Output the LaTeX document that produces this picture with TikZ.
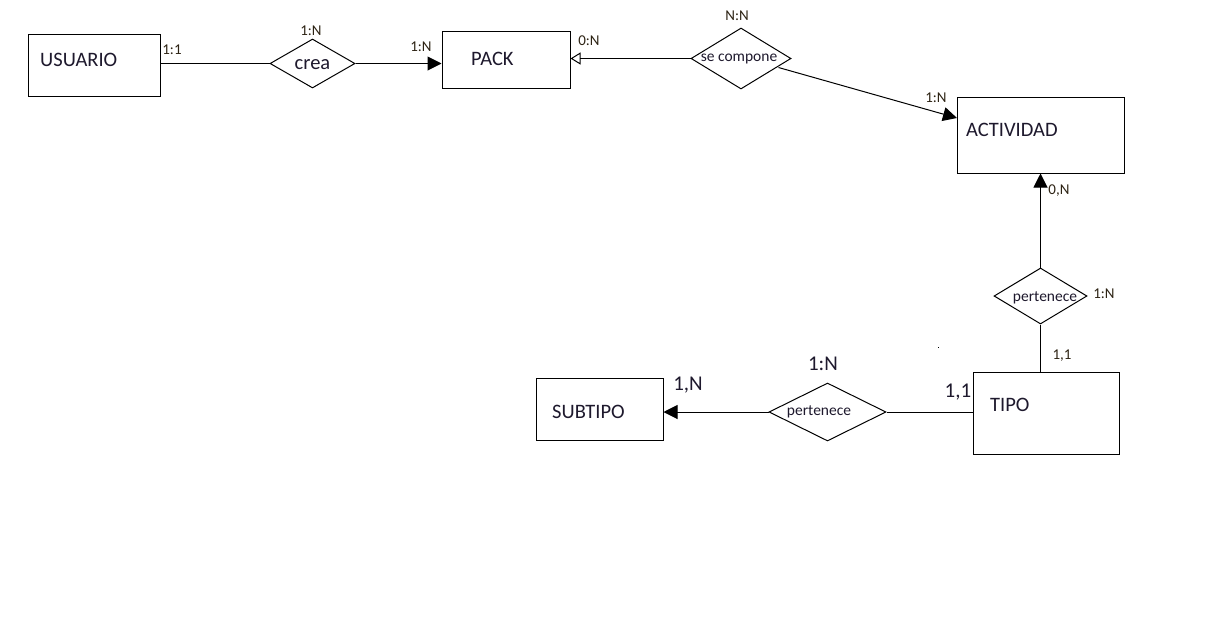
\documentclass[tikz,border=0pt]{standalone}
\usepackage{fontspec}
\setmainfont{Carlito}
\usetikzlibrary{shapes.geometric,arrows.meta}
\definecolor{txt}{RGB}{30,25,45}
\definecolor{lbl}{RGB}{45,35,20}
\begin{document}
\begin{tikzpicture}[x=1pt,y=-1pt,
  entity/.style={draw,line width=1pt,rectangle,inner sep=0pt},
  rel/.style={draw,line width=1pt,diamond,inner sep=0pt},
  conn/.style={line width=1pt},
  big/.style={font=\fontsize{20.5}{23}\selectfont,text=txt,inner sep=0pt},
  mid/.style={font=\fontsize{15.5}{18}\selectfont,text=txt,inner sep=0pt},
  card/.style={font=\fontsize{15}{17}\selectfont,text=lbl,inner sep=0pt},
  cardbig/.style={font=\fontsize{21}{24}\selectfont,text=txt,inner sep=0pt},
  fill arr/.style={-{Triangle[length=14pt,width=14pt]}},
  open arr/.style={-{Triangle[open,length=10pt,width=12pt]}}
]
\useasboundingbox[fill=white] (0,0) rectangle (1219,622);

% entities
\node[entity,minimum width=132pt,minimum height=62pt] (usuario) at (94,65) {};
\node[entity,minimum width=128pt,minimum height=57pt] (pack) at (506,59.5) {};
\node[entity,minimum width=167pt,minimum height=76pt] (actividad) at (1040.5,135) {};
\node[entity,minimum width=146pt,minimum height=82pt] (tipo) at (1046,413) {};
\node[entity,minimum width=127pt,minimum height=62pt] (subtipo) at (599.5,409) {};

\node[big,anchor=west] (tusuario) at (40,60) {USUARIO};
\node[big,anchor=west] (tpack) at (471,59) {PACK};
\node[big,anchor=west] (tactividad) at (966,130) {ACTIVIDAD};
\node[big,anchor=west] (ttipo) at (990,405) {TIPO};
\node[big,anchor=west] (tsubtipo) at (552,412) {SUBTIPO};

% relationships
\node[rel,minimum width=85pt,minimum height=49pt] (crea) at (312.5,63.5) {};
\node[rel,minimum width=100pt,minimum height=61pt] (secomp) at (741,58.5) {};
\node[rel,minimum width=93pt,minimum height=56pt] (pert1) at (1040.5,296) {};
\node[rel,minimum width=117pt,minimum height=58pt] (pert2) at (827.5,412) {};

\node[big] (tcrea) at (312.5,65) {crea};
\node[mid] (tsecomp) at (739,59) {se compone};
\node[mid] (tpert1) at (1045,298) {pertenece};
\node[mid] (tpert2) at (819,412) {pertenece};

% connectors
\draw[conn] (usuario.east |- crea.west) -- (crea.west);
\draw[conn,fill arr] (crea.east) -- (pack.west |- crea.east);
\draw[conn,open arr] (secomp.west) -- (pack.east |- secomp.west);
\coordinate (actin) at (957,118);
\draw[conn,fill arr] (secomp.east) ++(-13,9) coordinate (secout) -- (actin);
\draw[conn,fill arr] (pert1.north) -- (actividad.south -| pert1.north);
\draw[conn] (pert1.south) -- (tipo.north -| pert1.south);
\draw[conn] (tipo.west |- pert2.east) -- (pert2.east);
\draw[conn,fill arr] (pert2.west) -- (subtipo.east |- pert2.west);

% cardinalities
\node[card] (c1) at (172,50) {1:1};
\node[card] (c2) at (311,31) {1:N};
\node[card] (c3) at (421,47) {1:N};
\node[card] (c4) at (589,41) {0:N};
\node[card] (c5) at (737,16) {N:N};
\node[card] (c6) at (936,98) {1:N};
\node[card] (c7) at (1059,191) {0,N};
\node[card] (c8) at (1104,294) {1:N};
\node[card] (c9) at (1062,356) {1,1};
\node[cardbig] (c10) at (958,392) {1,1};
\node[cardbig] (c11) at (688,385) {1,N};
\node[cardbig] (c12) at (823,364) {1:N};

% stray dot
\fill (937.5,346.5) rectangle (938.5,347.5);
\end{tikzpicture}
\end{document}
